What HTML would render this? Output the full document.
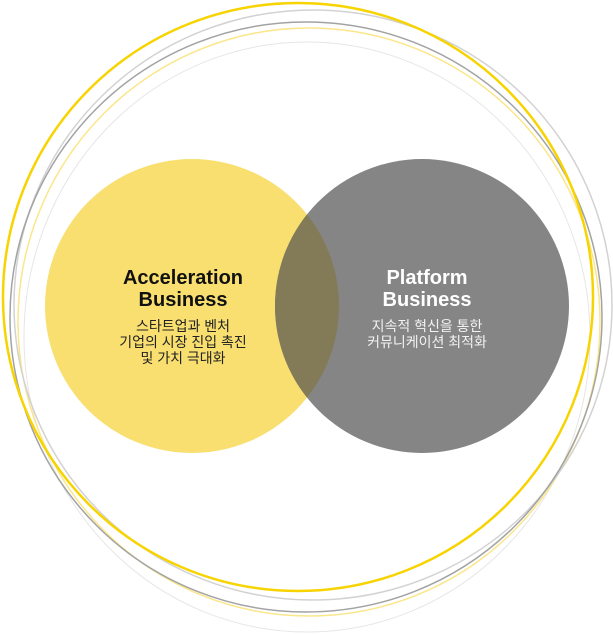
<!DOCTYPE html>
<html><head><meta charset="utf-8"><style>
html,body{margin:0;padding:0;background:#fff;width:613px;height:634px;overflow:hidden}
svg{display:block}
</style></head><body>
<svg width="613" height="634" viewBox="0 0 613 634" xmlns="http://www.w3.org/2000/svg">
<ellipse cx="307" cy="337" rx="283" ry="295" fill="none" stroke="#e6e6e6" stroke-width="1"/>
<ellipse cx="309" cy="322" rx="291" ry="294" fill="none" stroke="#fbe68a" stroke-width="1.5"/>
<ellipse cx="313" cy="305" rx="299" ry="295" fill="none" stroke="#d2d2d2" stroke-width="1.5"/>
<ellipse cx="306" cy="317" rx="296" ry="295" fill="none" stroke="#a3a3a3" stroke-width="1.5"/>
<ellipse cx="298" cy="297" rx="295" ry="294" fill="none" stroke="#f7d300" stroke-width="2.5"/>
<circle cx="192" cy="306" r="147" fill="#f8df70"/>
<circle cx="422" cy="306" r="147" fill="#858585"/>
<clipPath id="c"><circle cx="192" cy="306" r="147"/></clipPath>
<circle cx="422" cy="306" r="147" fill="#837a57" clip-path="url(#c)"/>
<g font-family="Liberation Sans, 'Noto Sans CJK KR', sans-serif" text-anchor="middle">
<text x="183" y="284" font-size="20" font-weight="bold" fill="#111">Acceleration</text>
<text x="183" y="306" font-size="20" font-weight="bold" fill="#111">Business</text>
<text x="183" y="331" font-size="14" fill="#222">스타트업과 벤처</text>
<text x="183" y="347" font-size="14" fill="#222">기업의 시장 진입 촉진</text>
<text x="183" y="363" font-size="14" fill="#222">및 가치 극대화</text>
<text x="427" y="284" font-size="20" font-weight="bold" fill="#fff">Platform</text>
<text x="427" y="306" font-size="20" font-weight="bold" fill="#fff">Business</text>
<text x="427" y="331" font-size="14" fill="#f2f2f2">지속적 혁신을 통한</text>
<text x="427" y="347" font-size="14" fill="#f2f2f2">커뮤니케이션 최적화</text>
</g>
</svg>
</body></html>
